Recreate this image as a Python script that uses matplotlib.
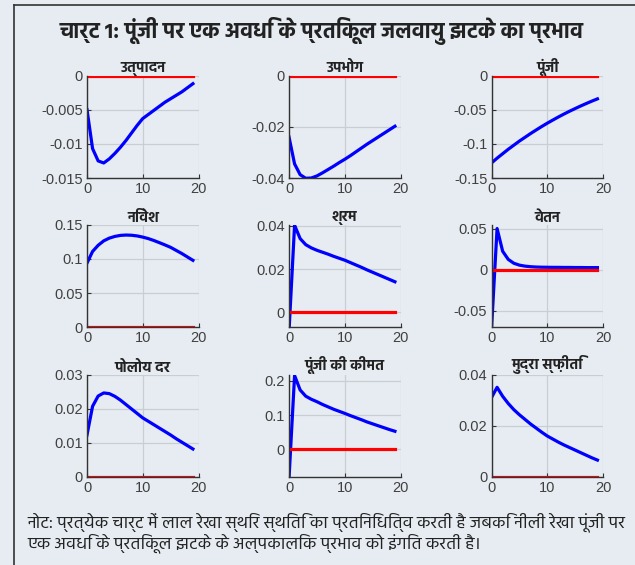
import numpy as np
import matplotlib
matplotlib.use("Agg")
import matplotlib.pyplot as plt
from matplotlib import font_manager

# Devanagari-capable family for the Hindi texts, preferring one with a bold face
fonts = font_manager.fontManager.ttflist
deva_family = "FreeSans"
for name in ["Noto Sans Devanagari", "Hind", "Mukta", "Poppins", "FreeSans"]:
    if any(f.name == name and int(f.weight) >= 700 for f in fonts):
        deva_family = name
        break
HINDI = [deva_family, "DejaVu Sans"]
plt.rcParams["font.family"] = ["Liberation Sans", deva_family, "DejaVu Sans"]

BG = "#e6ecf2"

t = np.arange(20)

titles = ["उत्पादन", "उपभोग", "पूंजी", "निवेश", "श्रम", "वेतन",
          "पोलोय दर", "पूंजी की कीमत", "मुद्रा स्फ़ीति"]

output = [-0.0050, -0.0107, -0.0125, -0.0128, -0.0122, -0.0114, -0.0105, -0.0095,
          -0.0084, -0.0073, -0.0063, -0.0057, -0.0051, -0.0045, -0.0039, -0.0034,
          -0.0029, -0.0024, -0.0018, -0.0012]
consumption = [-0.0240, -0.0345, -0.0387, -0.0401, -0.0400, -0.0392, -0.0380, -0.0367,
               -0.0354, -0.0340, -0.0327, -0.0313, -0.0298, -0.0283, -0.0268, -0.0254,
               -0.0240, -0.0226, -0.0212, -0.0198]
capital = [-0.128, -0.121, -0.1145, -0.108, -0.102, -0.096, -0.0905, -0.085, -0.0798,
           -0.0747, -0.0698, -0.0652, -0.0607, -0.0564, -0.0523, -0.0484, -0.0446,
           -0.041, -0.0375, -0.0342]
investment = [0.094, 0.111, 0.120, 0.1265, 0.1305, 0.133, 0.1345, 0.135, 0.1347, 0.1337,
              0.132, 0.1298, 0.127, 0.1238, 0.1205, 0.117, 0.1125, 0.108, 0.103, 0.098]
labour = [-0.009, 0.0403, 0.0341, 0.0313, 0.0298, 0.0287, 0.0278, 0.0269, 0.0259, 0.0250,
          0.0241, 0.0230, 0.0219, 0.0208, 0.0196, 0.0185, 0.0174, 0.0163, 0.0152, 0.0141]
wage = [-0.072, 0.050, 0.0224, 0.0125, 0.0078, 0.0055, 0.0043, 0.0036, 0.0032, 0.0030,
        0.0029, 0.0028, 0.0028, 0.0027, 0.0027, 0.0026, 0.0026, 0.0025, 0.0025, 0.0025]
policy_rate = [0.0123, 0.0207, 0.0237, 0.0246, 0.0244, 0.0236, 0.0225, 0.0212, 0.0199,
               0.0186, 0.0173, 0.0163, 0.0153, 0.0143, 0.0133, 0.0123, 0.0112, 0.0102,
               0.0092, 0.0082]
price_capital = [-0.085, 0.215, 0.173, 0.155, 0.146, 0.139, 0.131, 0.124, 0.117, 0.111,
                 0.105, 0.0985, 0.0925, 0.0865, 0.080, 0.0745, 0.069, 0.0635, 0.058, 0.053]
inflation = [0.031, 0.035, 0.0315, 0.0287, 0.0263, 0.0243, 0.0225, 0.0207, 0.0191, 0.0175,
             0.016, 0.0148, 0.0136, 0.0125, 0.0115, 0.0105, 0.0095, 0.0085, 0.0075, 0.0066]
steady_state = np.zeros(20)

series = [output, consumption, capital, investment, labour, wage,
          policy_rate, price_capital, inflation]
ylims = [(-0.015, 0), (-0.04, 0), (-0.15, 0), (0, 0.15), (-0.007, 0.0405),
         (-0.07, 0.0545), (0, 0.03), (-0.08, 0.218), (0, 0.04)]
yticks = [[-0.015, -0.01, -0.005, 0], [-0.04, -0.02, 0], [-0.15, -0.1, -0.05, 0],
          [0, 0.05, 0.1, 0.15], [0, 0.02, 0.04], [-0.05, 0, 0.05],
          [0, 0.01, 0.02, 0.03], [0, 0.1, 0.2], [0, 0.02, 0.04]]
ytick_labels = [["-0.015", "-0.01", "-0.005", "0"], ["-0.04", "-0.02", "0"],
                ["-0.15", "-0.1", "-0.05", "0"], ["0", "0.05", "0.1", "0.15"],
                ["0", "0.02", "0.04"], ["-0.05", "0", "0.05"],
                ["0", "0.01", "0.02", "0.03"], ["0", "0.1", "0.2"], ["0", "0.02", "0.04"]]

title = "चार्ट 1: पूंजी पर एक अवधि के प्रतिकूल जलवायु झटके का प्रभाव"
note_lines = ["नोट: प्रत्येक चार्ट में लाल रेखा स्थिर स्थिति का प्रतिनिधित्व करती है जबकि नीली रेखा पूंजी पर",
              "एक अवधि के प्रतिकूल झटके के अल्पकालिक प्रभाव को इंगित करती है।"]

fig = plt.figure(figsize=(6.35, 5.65), dpi=100, facecolor=BG)

# frame on the left and top
fig.add_artist(plt.Line2D([14 / 635, 14 / 635], [0, 1 - 5 / 565], color="#333333", lw=1.2))
fig.add_artist(plt.Line2D([14 / 635, 1], [1 - 5 / 565, 1 - 5 / 565], color="#333333", lw=1.2))

fig.text(322 / 635, 1 - 31 / 565, title, ha="center", va="center", fontsize=15.5,
         fontweight="bold", color="#222222", family=HINDI)

lefts = [87 / 635, 289 / 635, 491.5 / 635]
bottoms = [1 - 178 / 565, 1 - 327.3 / 565, 1 - 477 / 565]
w = 111.5 / 635
h = 102.5 / 565

for i in range(9):
    r, c = divmod(i, 3)
    ax = fig.add_axes([lefts[c], bottoms[r], w, h])
    ax.set_facecolor(BG)
    ax.plot(t, series[i], color="#0000ff", lw=2.3, solid_joinstyle="round")
    ax.plot(t, steady_state, color="#ff0000", lw=2.3)
    ax.set_xlim(0, 20)
    ax.set_ylim(*ylims[i])
    ax.set_xticks([0, 10, 20])
    ax.set_yticks(yticks[i])
    ax.set_yticklabels(ytick_labels[i])
    ax.grid(True, color="#c9ced3", lw=0.9)
    ax.set_axisbelow(True)
    for s in ["top", "right"]:
        ax.spines[s].set_visible(False)
    for s in ["left", "bottom"]:
        ax.spines[s].set_color("#333333")
        ax.spines[s].set_linewidth(1.0)
    ax.tick_params(direction="in", length=3, width=0.8, color="#333333",
                   labelsize=10.5, labelcolor="#404040", pad=3)
    ax.set_title(titles[i], fontsize=10.5, fontweight="bold", color="#222222", pad=2,
                 family=HINDI)

for k, line in enumerate(note_lines):
    fig.text(27 / 635, 1 - (522 + 21 * k) / 565, line, ha="left", va="center",
             fontsize=12.6, color="#222222", family=HINDI)

fig.savefig("out.png", dpi=100, facecolor=BG)
